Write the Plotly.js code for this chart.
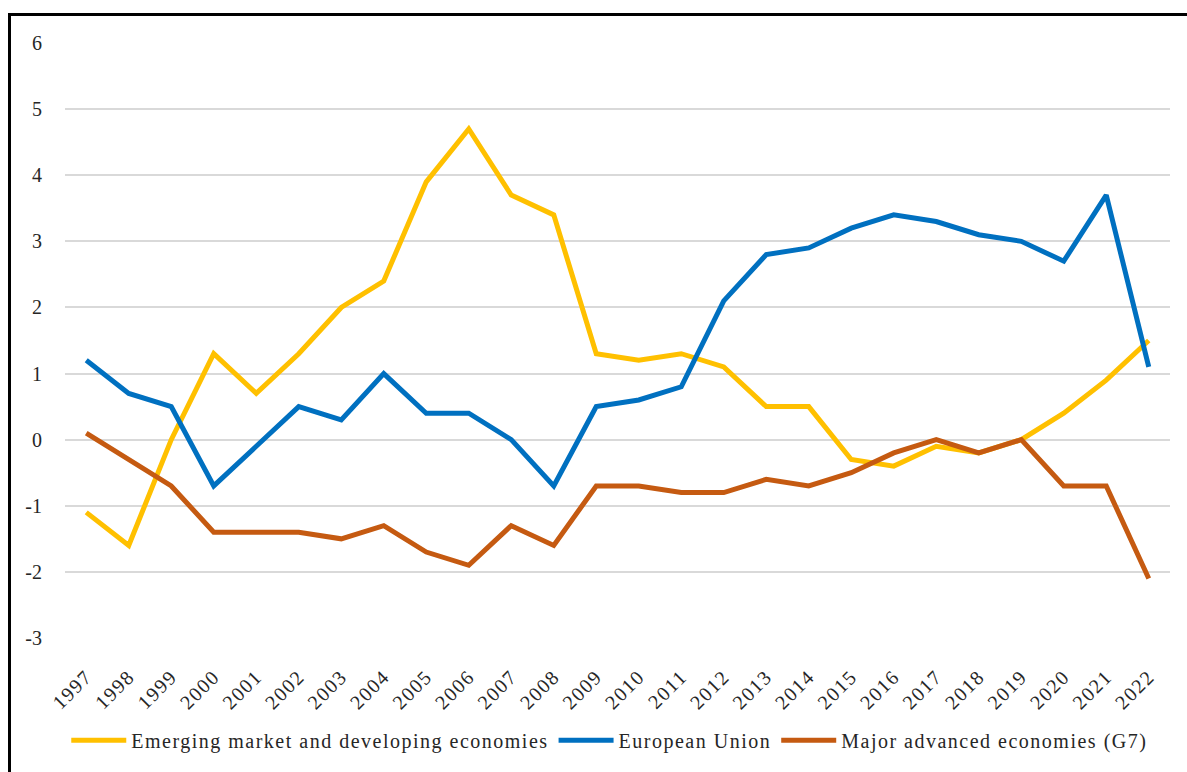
<!DOCTYPE html>
<html>
<head>
<meta charset="utf-8">
<script src="https://cdn.plot.ly/plotly-3.0.1.min.js"></script>
<style>
  html, body { margin: 0; padding: 0; background: #fff; }
  #wrap { position: relative; width: 1187px; height: 772px; overflow: hidden; }
  #chart { width: 1187px; height: 772px; }
  #frame { position: absolute; left: 8px; top: 13px; width: 1300px; height: 900px;
           border-left: 3px solid #000; border-top: 3px solid #000; pointer-events: none; }
  .legendtext { letter-spacing: 1.5px; }
  .xtick text { letter-spacing: 1.5px; }
</style>
</head>
<body>
<div id="wrap">
  <div id="chart"></div>
  <div id="frame"></div>
</div>
<script>
const years = ["1997","1998","1999","2000","2001","2002","2003","2004","2005","2006","2007","2008","2009",
               "2010","2011","2012","2013","2014","2015","2016","2017","2018","2019","2020","2021","2022"];
const emerging = [-1.1,-1.6,0.0,1.3,0.7,1.3,2.0,2.4,3.9,4.7,3.7,3.4,1.3,1.2,1.3,1.1,0.5,0.5,-0.3,-0.4,-0.1,-0.2,0.0,0.4,0.9,1.5];
const eu = [1.2,0.7,0.5,-0.7,-0.1,0.5,0.3,1.0,0.4,0.4,0.0,-0.7,0.5,0.6,0.8,2.1,2.8,2.9,3.2,3.4,3.3,3.1,3.0,2.7,3.7,1.1];
const g7 = [0.1,-0.3,-0.7,-1.4,-1.4,-1.4,-1.5,-1.3,-1.7,-1.9,-1.3,-1.6,-0.7,-0.7,-0.8,-0.8,-0.6,-0.7,-0.5,-0.2,0.0,-0.2,0.0,-0.7,-0.7,-2.1];
const seriesNames = ["Emerging market and developing economies","European Union","Major advanced economies (G7)"];
const seriesColors = ["#FFC000","#0070C0","#C55A11"];
const seriesData = [emerging, eu, g7];
const yTickVals = [-3,-2,-1,0,1,2,3,4,5,6];
const yTickText = ["-3","-2","-1","0","1","2","3","4","5","6"];

const traces = seriesData.map((vals, i) => ({
  type: 'scatter', mode: 'lines', x: years, y: vals, name: seriesNames[i],
  line: { color: seriesColors[i], width: 5 }
}));

const fam = 'Liberation Serif';
const font = { family: fam, size: 20, color: '#262626' };

const layout = {
  width: 1187, height: 772,
  margin: { l: 65, r: 17, t: 43, b: 130 },
  paper_bgcolor: '#fff', plot_bgcolor: '#fff',
  font: font,
  showlegend: true,
  legend: { orientation: 'h', x: 0.493, xanchor: 'center', y: -0.172, yanchor: 'middle',
            font: font, itemwidth: 55, tracegroupgap: 0 },
  xaxis: { type: 'category', range: [-0.5, 25.5], tickangle: -45, showgrid: false, zeroline: false,
           showline: false, ticks: 'outside', ticklen: 18, tickcolor: 'rgba(0,0,0,0)', automargin: false,
           tickfont: { family: fam, size: 20, color: '#262626' } },
  yaxis: { range: [-3, 6], tickvals: yTickVals, ticktext: yTickText, showgrid: true, gridcolor: '#D9D9D9', gridwidth: 2,
           zeroline: false, showline: false, ticks: 'outside', ticklen: 18, tickcolor: 'rgba(0,0,0,0)', automargin: false,
           tickfont: { family: fam, size: 20, color: '#262626' } }
};

Plotly.newPlot('chart', traces, layout, { displayModeBar: false, staticPlot: true });
</script>
</body>
</html>
